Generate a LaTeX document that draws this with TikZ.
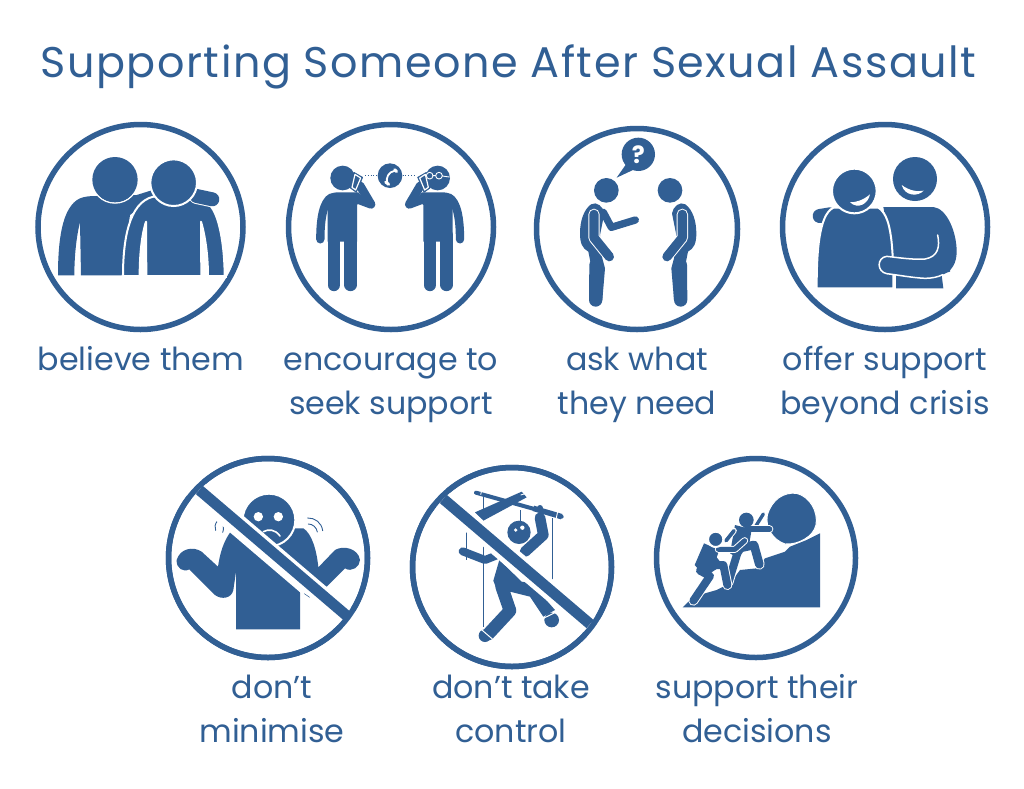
\documentclass[tikz,border=0pt]{standalone}
\usepackage{fontspec}
\setmainfont{Poppins}
\newfontfamily\titlefont[LetterSpace=3.5]{Poppins}
\definecolor{ink}{HTML}{315F94}
\tikzset{
  ring/.style={draw=ink,line width=5.5pt,fill=white},
  lbl/.style={text=ink,anchor=base,font=\fontsize{31.7}{38}\selectfont,inner sep=0pt},
  ttl/.style={text=ink,anchor=base,font=\titlefont\fontsize{42.9}{50}\selectfont,inner sep=0pt},
  cased/.style={fill=ink,draw=white,line width=2pt,line join=round},
  wline/.style={draw=white,line width=1.6pt,line cap=round,line join=round},
  thin ink/.style={draw=ink,line width=0.9pt,line cap=round},
}
\newcommand{\lmb}[2]{\draw[ink,line width={#1*1pt/3},line cap=round,line join=round] #2;}
\newcommand{\lmbw}[2]{\draw[white,line width={(#1+6)*1pt/3},line cap=round,line join=round] #2;}
\newcommand{\lmbc}[2]{\lmbw{#1}{#2}\lmb{#1}{#2}}
\newcommand{\phoneguy}{%
  \fill[ink] (938,189) circle[radius=37];
  \fill[ink] (893,380) -- (893,255) .. controls (893,240) and (905,232) .. (920,232) -- (985,232) -- (1000,250) -- (981,270) -- (981,380) -- cycle;
  \lmb{37}{(911.5,360) -- (911.5,510)}
  \lmb{37}{(961.5,360) -- (961.5,510)}
  \lmb{25}{(905,247) .. controls (880,260) and (871,310) .. (871,373)}
  \lmb{26}{(975,250) -- (1023,268) -- (990,212)}
  \draw[ink,line width=0.7pt,fill=ink,line join=round] (972,172) -- (998,187) -- (979,232) -- (961,219) -- cycle;
  \draw[white,line width=1.2pt,fill=ink,line join=round] (975,178) -- (992,189) -- (977,225) -- (966,217) -- cycle;
}
\newcommand{\bentguy}{%
  \fill[ink] (244,226) circle[radius=37];
  \fill[ink] (198,268) .. controls (175,285) and (165,320) .. (165,355) .. controls (165,385) and (172,400) .. (190,410) -- (198,450) -- (194,555) -- (232,555) -- (240,460) -- (232,430) -- (225,360) -- (238,295) .. controls (235,275) and (215,258) .. (198,268) -- cycle;
  \lmb{40}{(213,450) -- (212,555)}
  \lmbc{28}{(207,298) -- (207,368) -- (253,425)}
}
\begin{document}
\begin{tikzpicture}[x=1pt,y=-1pt]
\useasboundingbox (0,0) rectangle (1024,788);
\fill[white] (0,0) rectangle (1024,788);
\node[ttl] (title) at (508.5,77.5) {Supporting Someone After Sexual Assault};
% rings
\draw[ring] (140.5,227) circle[radius=102.5];
\draw[ring] (391,227) circle[radius=102.5];
\draw[ring] (637,229) circle[radius=100.5];
\draw[ring] (885,227) circle[radius=102.5];
\draw[ring] (268,558) circle[radius=99.5];
\draw[ring] (512,567) circle[radius=99.5];
\draw[ring] (756,558) circle[radius=99.5];
% --- icon 1
\begin{scope}[shift={(30,115)},scale=1/3]
  \fill[ink] (84,481) .. controls (84,380) and (95,275) .. (150,250) .. controls (165,244) and (180,243) .. (200,243) -- (320,240) -- (365,226) -- (370,245) -- (300,300) -- (275,481) -- (153,481) -- (150,322) .. controls (140,360) and (133,420) .. (133,481) -- cycle;
  \draw[cased] (279,483) .. controls (279,380) and (295,262) .. (370,245) -- (490,245) .. controls (520,250) and (540,265) .. (550,285) .. controls (575,330) and (584,420) .. (584,483) -- (534,483) .. controls (534,420) and (525,360) .. (513,320) -- (514,483) -- (349,483) -- (348,320) .. controls (335,360) and (329,420) .. (329,483) -- cycle;
  \fill[white] (270,481.5) rectangle (590,490);
  \lmbc{42}{(500,243) -- (547,253)}
  \draw[white,line width=1.5pt] (255,194) circle[radius=70];
  \fill[ink] (255,194) circle[radius=68];
  \draw[cased] (431,203) circle[radius=70];
\end{scope}
% --- icon 2
\begin{scope}[shift={(30,115)},scale=1/3]
  \phoneguy
  \begin{scope}[shift={(2161,0)},xscale=-1]
    \phoneguy
  \end{scope}
  \draw[wline,line width=0.9pt] (1199,182) circle[radius=10];
  \draw[wline,line width=0.9pt] (1227,182) circle[radius=10];
  \draw[wline,line width=0.9pt] (1209,182) -- (1217,182) (1237,183) -- (1258,186);
  \draw[ink,line width=0.8pt,dotted] (1005,182) -- (1043,182);
  \draw[ink,line width=0.8pt,dotted] (1118,182) -- (1160,182);
  \fill[ink] (1080,182) circle[radius=37];
  \draw[white,line width=1.8pt,line cap=round] (1095,167) .. controls (1076,170) and (1066,188) .. (1072,205);
  \draw[white,line width=3pt,line cap=round] (1094,164) -- (1100,170) (1067,201) -- (1076,208);
\end{scope}
% --- icon 3
\begin{scope}[shift={(525,115)},scale=1/3]
  \fill[ink] (340,118) circle[radius=50];
  \fill[ink] (303,148) -- (326,164) -- (275,188) -- cycle;
  \node[text=white,font=\bfseries\fontsize{24}{24}\selectfont,inner sep=0pt] (qmark) at (340,119) {?};
  \lmb{22}{(235,292) -- (259,337) -- (331,315)}
  \bentguy
  \begin{scope}[shift={(679,0)},xscale=-1]
    \bentguy
  \end{scope}
\end{scope}
% --- icon 4
\begin{scope}[shift={(525,115)},scale=1/3]
  \fill[ink] (1170,192) circle[radius=66];
  \fill[white] (1130,210) .. controls (1150,225) and (1175,232) .. (1196,227) .. controls (1180,245) and (1140,245) .. (1130,210) -- cycle;
  \fill[ink] (1113,520) -- (1113,480) -- (1075,276) -- (1225,276) .. controls (1265,280) and (1295,350) .. (1295,410) .. controls (1295,445) and (1280,470) .. (1250,480) -- (1255,520) -- cycle;
  \lmb{42}{(884,303) -- (915,298)}
  \draw[cased] (875,520) .. controls (875,420) and (880,300) .. (925,278) -- (1060,278) .. controls (1095,300) and (1105,370) .. (1105,520) -- cycle;
  \fill[white] (870,520) rectangle (1108,526);
  \draw[cased] (988,228) circle[radius=67];
  \fill[white] (975,262) .. controls (995,262) and (1015,255) .. (1035,238) .. controls (1030,265) and (1000,285) .. (975,262) -- cycle;
  \fill[ink] (1085,424) .. controls (1120,428) and (1170,435) .. (1200,432) .. controls (1240,425) and (1245,395) .. (1238,360) -- (1280,360) -- (1275,470) -- (1200,490) .. controls (1160,488) and (1120,480) .. (1085,476) .. controls (1055,470) and (1055,428) .. (1085,424) -- cycle;
  \draw[white,line width=1.5pt,line cap=round] (1238,360) .. controls (1245,395) and (1240,425) .. (1200,432) .. controls (1170,435) and (1120,428) .. (1085,424) .. controls (1055,428) and (1055,470) .. (1085,476) .. controls (1120,480) and (1160,488) .. (1200,490) .. controls (1220,490) and (1240,486) .. (1253,479);
\end{scope}
% --- icon 5
\begin{scope}[shift={(160,450)},scale=1/3]
  \fill[ink] (212,245) .. controls (190,275) and (180,310) .. (174,350) -- (125,305) .. controls (100,288) and (60,295) .. (50,330) .. controls (48,355) and (70,368) .. (88,358) -- (165,435) .. controls (185,450) and (215,445) .. (220,420) -- (228,365) -- (228,538) -- (420,538) -- (420,400) -- (500,410) -- (555,355) .. controls (575,368) and (600,350) .. (600,330) .. controls (595,295) and (550,285) .. (525,300) -- (475,352) .. controls (470,300) and (455,250) .. (430,235) -- (300,235) -- cycle;
  \draw[cased] (327,210) circle[radius=79];
  \fill[white] (295,200) circle[radius=14] (355,200) circle[radius=14];
  \draw[white,line width=1.6pt,line cap=round] (310,245) .. controls (325,237) and (345,237) .. (360,258);
  \draw[thin ink] (172,213) .. controls (165,222) and (163,232) .. (167,241);
  \draw[thin ink] (183,215) .. controls (192,225) and (192,237) .. (188,247);
  \draw[thin ink] (443,204) .. controls (465,203) and (485,218) .. (488,242);
  \draw[thin ink] (445,222) .. controls (458,222) and (470,232) .. (472,246);
  \draw[white,line width=21.3pt] (37.4,58) -- (617.4,553);
  \draw[ink,line width=0.5pt] (433,431) -- (449,442);
  \draw[ink,line width=10.8pt] (118,120) -- (560,497);
\end{scope}
% --- icon 6
\begin{scope}[shift={(160,450)},scale=1/3]
  \draw[ink,line width=0.8pt] (971,135) -- (971,530) (918,245) -- (918,330) (1178,205) -- (1178,390) (1082,180) -- (1082,212);
  \fill[ink] (945,187) -- (970,212) -- (1100,142) -- (1085,125) -- cycle;
  \draw[ink,line width=4pt,line cap=round] (948,128) -- (1205,200);
  \draw[ink,line width=5.5pt,line cap=butt] (1120,175) -- (1205,200);
  \fill[ink] (1140,174) circle[radius=9];
  \draw[white,line width=0.9pt] (1193,185) -- (1188,208) (1082,135) -- (1098,130) (965,122) -- (962,134);
  \fill[ink] (1077,247) circle[radius=35];
  \fill[white] (1067,240) circle[radius=5.5] (1087,233) circle[radius=6.5];
  \lmb{32}{(1095,305) -- (1150,255) -- (1140,203)}
  \lmb{24}{(908,304) -- (975,330) -- (1010,316)}
  \fill[ink] (1018,330) -- (1000,392) -- (1030,470) -- (1068,480) -- (1050,425) -- (1110,440) -- (1150,500) -- (1185,480) -- (1115,400) -- (1085,395) -- cycle;
  \lmb{38}{(1025,410) -- (1050,482) -- (985,552)}
  \fill[ink] (975,557) circle[radius=19];
  \draw[white,line width=1pt] (960,535) -- (997,567);
  \fill[ink] (1175,510) circle[radius=22];
  \draw[white,line width=1pt] (1150,505) -- (1187,487);
  \draw[white,line width=20pt] (780,90) -- (1350,573);
  \draw[ink,line width=10.8pt] (850,147) -- (1290,522);
\end{scope}
% --- ring touch-up for bans
\draw[draw=ink,line width=5.5pt] (268,558) circle[radius=99.5];
\draw[draw=ink,line width=5.5pt] (512,567) circle[radius=99.5];
% --- icon 7
\begin{scope}[shift={(650,450)},scale=1/3]
  \fill[ink] (98,472) -- (510,472) -- (510,250) -- (470,270) -- (420,290) -- (405,305) -- (345,325) -- (320,355) -- (270,360) -- (240,400) -- (200,420) -- (165,430) -- (120,450) -- cycle;
  \draw[white,line width=1pt,fill=ink] (352,195) .. controls (365,150) and (400,125) .. (440,130) .. controls (480,140) and (505,185) .. (498,225) .. controls (490,260) and (445,285) .. (405,282) .. controls (370,270) and (345,235) .. (352,195) -- cycle;
  % right person: casings first, then one solid figure
  \lmbc{10}{(315,232) -- (340,192)}
  \lmbw{18}{(290,238) -- (358,238)}
  \lmbw{26}{(265,295) -- (312,285) -- (328,343)}
  \lmbw{24}{(265,300) -- (235,398)}
  \draw[white,line width=2pt,line join=round] (255,225) -- (305,238) -- (298,280) -- (265,325) -- (240,310) -- cycle;
  \lmb{18}{(290,238) -- (358,238)}
  \lmb{26}{(265,295) -- (312,285) -- (328,343)}
  \lmb{24}{(265,300) -- (235,398)}
  \fill[ink] (255,225) -- (305,238) -- (298,280) -- (265,325) -- (240,310) -- cycle;
  \fill[ink] (289,210) circle[radius=22];
  % left person: casings first, then one solid figure
  \lmbw{24}{(150,362) -- (180,378) -- (130,452)}
  \lmbw{24}{(195,345) -- (220,345) -- (232,405)}
  \draw[white,line width=2pt,line join=round] (162,280) -- (208,300) -- (200,322) -- (218,345) -- (165,380) -- (134,345) -- cycle;
  \lmb{24}{(150,362) -- (180,378) -- (130,452)}
  \lmb{24}{(195,345) -- (220,345) -- (232,405)}
  \fill[ink] (162,280) -- (208,300) -- (200,322) -- (218,345) -- (165,380) -- (134,345) -- cycle;
  \lmbc{11}{(228,272) -- (252,242)}
  \lmbc{15}{(205,298) -- (255,298) -- (284,272)}
  \draw[cased] (197,268) circle[radius=23];
\end{scope}
% labels
\node[lbl] (l1) at (141,370) {believe them};
\node[lbl] (l2a) at (391,370) {encourage to};
\node[lbl] (l2b) at (391,414) {seek support};
\node[lbl] (l3a) at (637,370) {ask what};
\node[lbl] (l3b) at (637,414) {they need};
\node[lbl] (l4a) at (885,370) {offer support};
\node[lbl] (l4b) at (885,414) {beyond crisis};
\node[lbl] (l5a) at (272,698) {don’t};
\node[lbl] (l5b) at (272,742) {minimise};
\node[lbl] (l6a) at (511,698) {don’t take};
\node[lbl] (l6b) at (511,742) {control};
\node[lbl] (l7a) at (757,698) {support their};
\node[lbl] (l7b) at (757,742) {decisions};
\end{tikzpicture}
\end{document}
